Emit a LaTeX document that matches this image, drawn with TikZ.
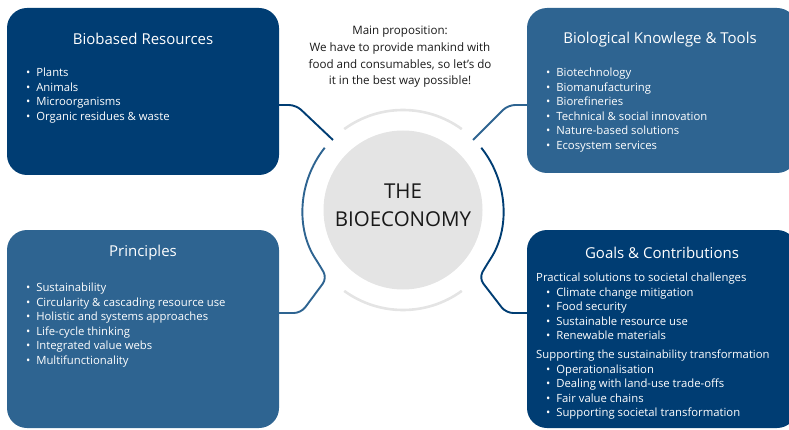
\documentclass[tikz,border=0pt]{standalone}
\usepackage{fontspec}
\setmainfont{Open Sans}
\usetikzlibrary{calc}
\definecolor{darkb}{RGB}{0,61,115}
\definecolor{medb}{RGB}{46,100,145}
\definecolor{ringgray}{RGB}{228,228,228}
\definecolor{txt}{RGB}{25,25,25}
\begin{document}
\begin{tikzpicture}[x=1pt,y=1pt,
  boxd/.style={fill=darkb,draw=none,rounded corners=20pt},
  boxm/.style={fill=medb,draw=none,rounded corners=20pt},
  ttl/.style={text=white,font=\fontsize{15}{17}\selectfont,anchor=center},
  lst/.style={text=white,font=\fontsize{11.3}{14.5}\selectfont,anchor=north west,align=left,inner sep=0pt},
  conn/.style={line width=1.9pt,rounded corners=7pt},
  ring/.style={ringgray,line width=2.6pt}]
\useasboundingbox (0,0) rectangle (789,429);
\begin{scope}
\clip (0,0) rectangle (789,429);
% boxes
\fill[boxd] (7,254) rectangle (279,421);
\fill[boxm] (527,256) rectangle (797,421);
\fill[boxm] (7,1) rectangle (279,199);
\fill[boxd] (527,1) rectangle (797,199);
\end{scope}
\node[inner sep=0pt] (bio) at (143,337.5) {};
\node[inner sep=0pt] (know) at (662,338) {};
\node[inner sep=0pt] (princ) at (143,100) {};
\node[inner sep=0pt] (goals) at (662,100) {};
% titles
\node[ttl] (t1) at (143,390) {Biobased Resources};
\node[ttl] (t2) at (660,389) {Biological Knowlege \& Tools};
\node[ttl] (t3) at (143,176) {Principles};
\node[ttl] (t4) at (662,176) {Goals \& Contributions};
% lists
\node[lst] (l1) at (26,361) {\textbullet\ \ Plants\\\textbullet\ \ Animals\\\textbullet\ \ Microorganisms\\\textbullet\ \ Organic residues \& waste};
\node[lst] (l2) at (546,361) {\textbullet\ \ Biotechnology\\\textbullet\ \ Biomanufacturing\\\textbullet\ \ Biorefineries\\\textbullet\ \ Technical \& social innovation\\\textbullet\ \ Nature-based solutions\\\textbullet\ \ Ecosystem services};
\node[lst] (l3) at (26,146) {\textbullet\ \ Sustainability\\\textbullet\ \ Circularity \& cascading resource use\\\textbullet\ \ Holistic and systems approaches\\\textbullet\ \ Life-cycle thinking\\\textbullet\ \ Integrated value webs\\\textbullet\ \ Multifunctionality};
\node[lst] (l4) at (536,156) {Practical solutions to societal challenges\\
\hspace{10pt}\textbullet\ \ Climate change mitigation\\
\hspace{10pt}\textbullet\ \ Food security\\
\hspace{10pt}\textbullet\ \ Sustainable resource use\\
\hspace{10pt}\textbullet\ \ Renewable materials\\[4.5pt]
Supporting the sustainability transformation\\
\hspace{10pt}\textbullet\ \ Operationalisation\\
\hspace{10pt}\textbullet\ \ Dealing with land-use trade-offs\\
\hspace{10pt}\textbullet\ \ Fair value chains\\
\hspace{10pt}\textbullet\ \ Supporting societal transformation};
% main proposition
\node[text=txt,font=\fontsize{11.6}{16.7}\selectfont,align=center] (prop) at (400,372) {Main proposition:\\We have to provide mankind with\\food and consumables, so let's do\\it in the best way possible!};
% center
\coordinate (C) at (403,219);
\node[circle,fill=ringgray,minimum size=159pt,inner sep=0pt] (eco) at (C) {};
\node[text=txt,font=\fontsize{20.5}{28}\selectfont,align=center] (ecot) at ($(C)+(0,5)$) {THE\\BIOECONOMY};
\draw[ring] ($(C)+(54:100)$) arc[start angle=54,end angle=126,radius=100];
\draw[ring] ($(C)+(234:100)$) arc[start angle=234,end angle=306,radius=100];
% connectors
\coordinate (a1) at (279,324);
\coordinate (a2) at ($(C)+(135:99)$);
\draw[conn,darkb] (a1) -- (296,324) -- (a2);
\coordinate (b1) at (527,324);
\coordinate (b2) at ($(C)+(45:99)$);
\draw[conn,medb] (b1) -- (508,324) -- (b2);
\coordinate (c1) at ($(C)+(141.5:100)$);
\coordinate (c2) at (279,116);
\draw[conn,medb] (c1) arc[start angle=141.5,end angle=213,radius=100] -- (327,151) -- (301,116) -- (c2);
\coordinate (d1) at ($(C)+(38.5:100)$);
\coordinate (d2) at (527,116);
\draw[conn,darkb] (d1) arc[start angle=38.5,end angle=-33,radius=100] -- (479,151) -- (506,116) -- (d2);
\end{tikzpicture}
\end{document}
